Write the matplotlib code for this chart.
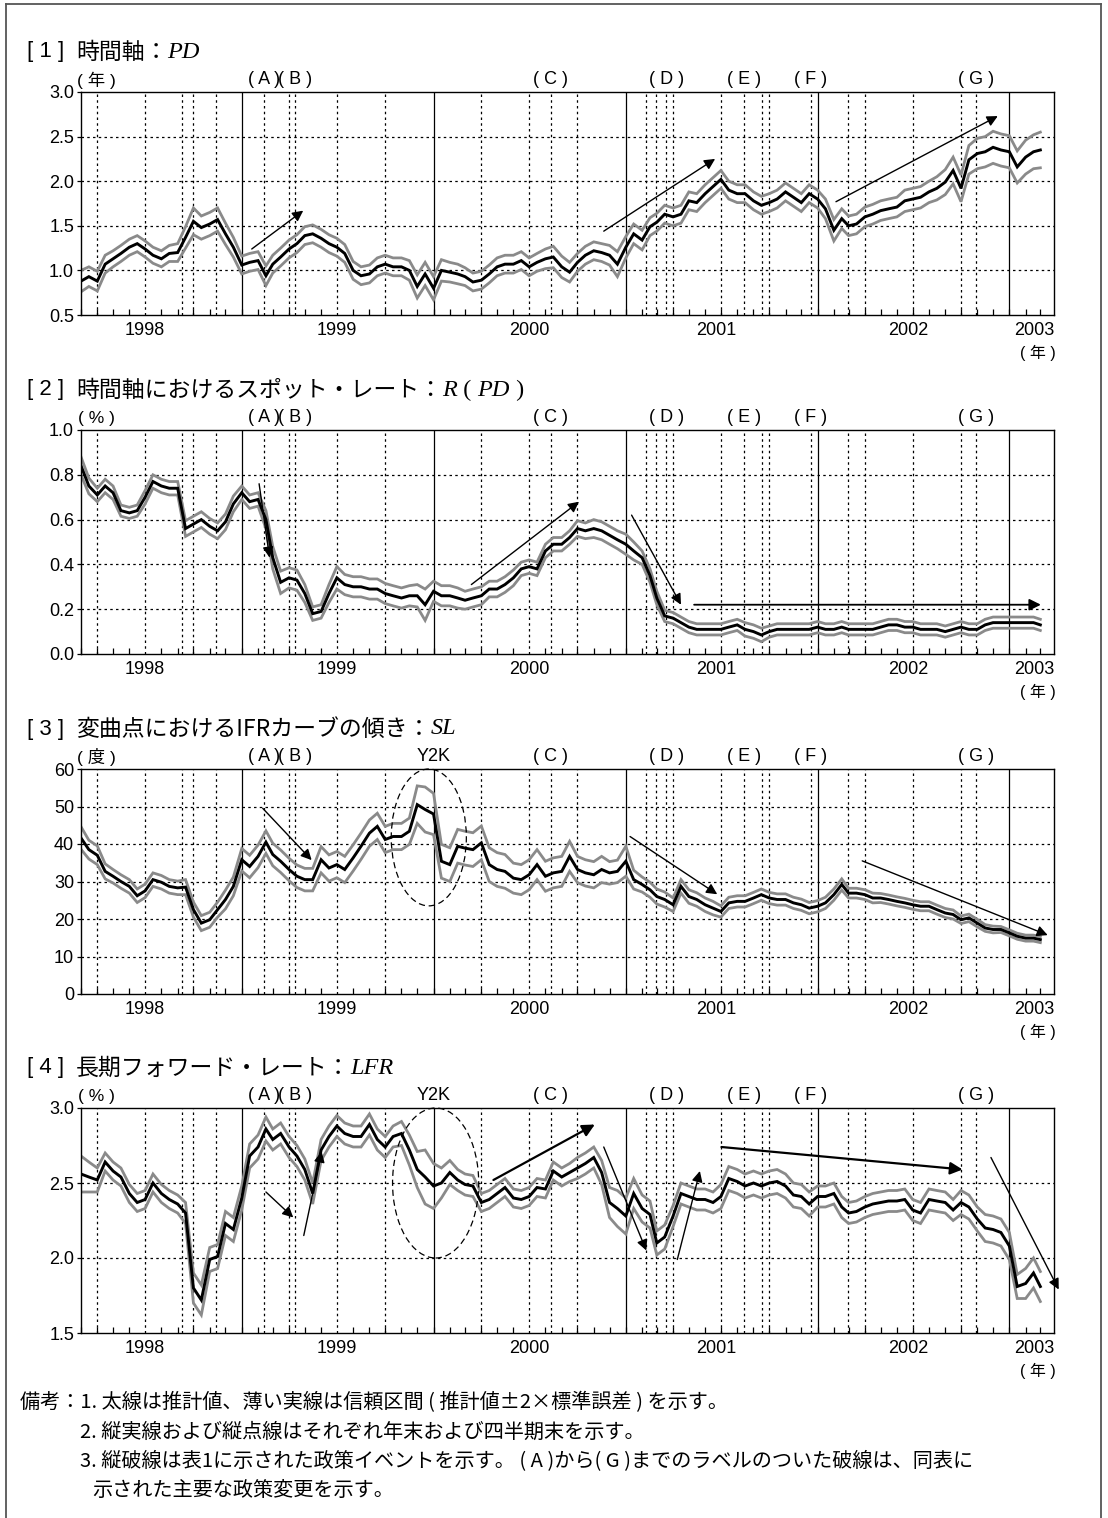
import numpy as np
import pandas as pd
import matplotlib
matplotlib.use("Agg")
import matplotlib.pyplot as plt
import matplotlib.dates as mdates
from matplotlib.patches import Ellipse
from matplotlib.lines import Line2D

W, H = 1108, 1518
JP = ["Noto Sans CJK JP", "DejaVu Sans"]
SANS = ["Liberation Sans", "Noto Sans CJK JP"]
SERIF = ["Liberation Serif"]

# ---------------------------------------------------------------- data
# semi-monthly observations (1st and 16th of each month)
month_starts = pd.date_range("1998-03-01", "2003-03-01", freq="MS")
obs_dates = sorted(list(month_starts) + [d + pd.Timedelta(days=15) for d in month_starts[:-1]])

# [1] time axis PD (years): estimate and 2*s.e. half-width
pd_est = [0.88, 0.93, 0.88, 1.07, 1.13, 1.19, 1.26, 1.30, 1.24, 1.17,
          1.13, 1.19, 1.20, 1.37, 1.55, 1.48, 1.52, 1.57, 1.41, 1.26,
          1.06, 1.09, 1.11, 0.94, 1.07, 1.15, 1.24, 1.30, 1.39, 1.41,
          1.36, 1.30, 1.26, 1.19, 1.00, 0.94, 0.96, 1.04, 1.07, 1.04,
          1.04, 1.00, 0.82, 0.96, 0.80, 1.00, 0.98, 0.96, 0.93, 0.87,
          0.89, 0.96, 1.04, 1.07, 1.07, 1.11, 1.04, 1.09, 1.13, 1.15,
          1.04, 0.98, 1.09, 1.17, 1.22, 1.20, 1.17, 1.07, 1.26, 1.41,
          1.34, 1.49, 1.54, 1.63, 1.60, 1.63, 1.78, 1.76, 1.86, 1.94,
          2.02, 1.90, 1.86, 1.86, 1.78, 1.73, 1.76, 1.80, 1.88, 1.82,
          1.76, 1.86, 1.80, 1.69, 1.45, 1.58, 1.50, 1.52, 1.60, 1.63,
          1.67, 1.69, 1.71, 1.78, 1.80, 1.82, 1.88, 1.92, 1.99, 2.12,
          1.92, 2.24, 2.31, 2.33, 2.38, 2.35, 2.33, 2.16, 2.27, 2.33,
          2.35]
pd_band = [0.12, 0.11, 0.11, 0.10, 0.09, 0.09, 0.09, 0.09, 0.09, 0.09,
           0.09, 0.09, 0.10, 0.12, 0.15, 0.13, 0.13, 0.13, 0.12, 0.11,
           0.10, 0.10, 0.10, 0.11, 0.10, 0.10, 0.10, 0.10, 0.10, 0.10,
           0.10, 0.10, 0.10, 0.10, 0.10, 0.10, 0.10, 0.10, 0.10, 0.10,
           0.10, 0.11, 0.13, 0.13, 0.13, 0.12, 0.11, 0.11, 0.10, 0.10,
           0.10, 0.10, 0.10, 0.10, 0.10, 0.10, 0.10, 0.10, 0.11, 0.12,
           0.12, 0.11, 0.10, 0.10, 0.10, 0.10, 0.11, 0.14, 0.12, 0.11,
           0.11, 0.10, 0.10, 0.10, 0.10, 0.10, 0.10, 0.10, 0.10, 0.10,
           0.10, 0.10, 0.10, 0.10, 0.10, 0.10, 0.10, 0.10, 0.10, 0.10,
           0.10, 0.10, 0.10, 0.11, 0.12, 0.11, 0.11, 0.11, 0.11, 0.11,
           0.11, 0.11, 0.11, 0.12, 0.12, 0.12, 0.12, 0.13, 0.14, 0.15,
           0.15, 0.16, 0.17, 0.17, 0.18, 0.18, 0.18, 0.18, 0.19, 0.19,
           0.20]

# [2] spot rate at PD (%)
r_est = [0.84, 0.75, 0.71, 0.75, 0.72, 0.64, 0.63, 0.64, 0.70, 0.77,
         0.75, 0.74, 0.74, 0.56, 0.58, 0.60, 0.57, 0.55, 0.59, 0.67,
         0.72, 0.68, 0.69, 0.60, 0.43, 0.32, 0.34, 0.33, 0.27, 0.18,
         0.19, 0.27, 0.34, 0.31, 0.30, 0.30, 0.29, 0.29, 0.27, 0.26,
         0.25, 0.26, 0.26, 0.22, 0.28, 0.26, 0.26, 0.25, 0.24, 0.25,
         0.26, 0.29, 0.29, 0.31, 0.34, 0.38, 0.39, 0.38, 0.46, 0.49,
         0.49, 0.52, 0.56, 0.55, 0.56, 0.55, 0.53, 0.51, 0.49, 0.46,
         0.43, 0.35, 0.25, 0.17, 0.16, 0.14, 0.12, 0.11, 0.11, 0.11,
         0.11, 0.12, 0.13, 0.11, 0.10, 0.085, 0.10, 0.11, 0.11, 0.11,
         0.11, 0.11, 0.12, 0.11, 0.11, 0.12, 0.11, 0.11, 0.11, 0.11,
         0.12, 0.13, 0.13, 0.12, 0.12, 0.11, 0.11, 0.11, 0.10, 0.11,
         0.12, 0.11, 0.11, 0.13, 0.14, 0.14, 0.14, 0.14, 0.14, 0.14,
         0.13]
r_band = [0.04, 0.035, 0.03, 0.03, 0.03, 0.025, 0.025, 0.025, 0.03, 0.03,
          0.03, 0.03, 0.03, 0.035, 0.035, 0.035, 0.035, 0.035, 0.035, 0.035,
          0.03, 0.03, 0.03, 0.04, 0.05, 0.05, 0.045, 0.045, 0.04, 0.03,
          0.03, 0.04, 0.05, 0.045, 0.045, 0.045, 0.045, 0.045, 0.045, 0.045,
          0.045, 0.045, 0.05, 0.07, 0.045, 0.045, 0.045, 0.045, 0.04, 0.04,
          0.04, 0.035, 0.035, 0.035, 0.035, 0.03, 0.03, 0.03, 0.03, 0.03,
          0.03, 0.03, 0.035, 0.035, 0.04, 0.04, 0.04, 0.04, 0.045, 0.04,
          0.03, 0.03, 0.03, 0.025, 0.025, 0.025, 0.025, 0.025, 0.025, 0.025,
          0.025, 0.025, 0.025, 0.03, 0.03, 0.03, 0.025, 0.025, 0.025, 0.025,
          0.025, 0.025, 0.025, 0.025, 0.025, 0.025, 0.025, 0.025, 0.025, 0.025,
          0.025, 0.025, 0.025, 0.025, 0.025, 0.025, 0.025, 0.025, 0.025, 0.025,
          0.025, 0.025, 0.025, 0.025, 0.025, 0.025, 0.025, 0.025, 0.025, 0.025,
          0.025]

# [3] slope of the IFR curve at the inflection point (degrees)
sl_est = [41.6, 38.5, 37.0, 32.7, 31.4, 30.0, 28.7, 26.2, 27.5, 30.5,
          29.8, 28.7, 28.3, 28.5, 22.5, 18.9, 19.8, 22.5, 25.2, 28.7,
          35.8, 34.0, 36.7, 40.5, 37.2, 35.4, 33.2, 31.4, 30.5, 30.5,
          35.8, 33.6, 34.5, 33.2, 36.3, 39.4, 42.9, 44.7, 41.2, 42.0,
          42.0, 43.4, 50.5, 49.2, 48.0, 35.4, 34.5, 39.4, 38.9, 38.5,
          40.3, 34.5, 33.2, 32.7, 30.9, 30.5, 31.8, 34.5, 31.4, 32.3,
          32.7, 36.7, 33.2, 32.3, 31.8, 33.2, 32.3, 32.7, 35.4, 30.5,
          29.2, 27.8, 26.0, 25.2, 23.8, 28.7, 26.0, 25.2, 23.8, 22.9,
          22.0, 24.3, 24.7, 24.7, 25.6, 26.5, 25.6, 25.2, 25.2, 24.3,
          23.8, 22.9, 23.4, 24.3, 26.5, 29.2, 26.9, 26.9, 26.5, 25.6,
          25.6, 25.2, 24.7, 24.3, 23.8, 23.4, 23.4, 22.5, 21.6, 21.2,
          19.8, 20.3, 18.9, 17.6, 17.2, 17.2, 16.3, 15.4, 14.9, 14.9,
          14.5]
sl_band = [3.0, 2.5, 2.5, 2.0, 1.8, 1.8, 1.8, 1.8, 1.8, 1.8,
           1.8, 1.8, 1.8, 2.0, 2.0, 2.0, 2.0, 2.0, 2.5, 2.5,
           3.0, 3.0, 3.0, 3.0, 3.0, 3.0, 3.0, 3.0, 3.0, 3.0,
           3.5, 3.5, 3.5, 3.5, 3.5, 3.5, 3.5, 3.5, 3.5, 3.5,
           3.5, 3.5, 5.0, 6.0, 5.5, 4.5, 4.5, 4.5, 4.5, 4.5,
           4.5, 4.5, 4.5, 4.5, 4.0, 4.0, 4.0, 4.0, 4.0, 4.0,
           4.0, 4.0, 3.5, 3.5, 3.5, 3.5, 3.0, 3.0, 4.0, 2.5,
           2.0, 2.0, 2.0, 2.0, 1.8, 1.8, 1.8, 1.8, 1.8, 1.8,
           1.5, 1.5, 1.5, 1.5, 1.5, 1.5, 1.5, 1.5, 1.5, 1.5,
           1.5, 1.5, 1.5, 1.5, 1.5, 1.5, 1.3, 1.3, 1.3, 1.3,
           1.2, 1.2, 1.2, 1.2, 1.2, 1.2, 1.2, 1.2, 1.2, 1.2,
           1.0, 1.0, 1.0, 0.9, 0.9, 0.8, 0.8, 0.8, 0.8, 0.8,
           0.8]

# [4] long-term forward rate LFR (%)
lfr_est = [2.56, 2.54, 2.52, 2.64, 2.58, 2.54, 2.43, 2.37, 2.39, 2.50,
           2.43, 2.39, 2.36, 2.30, 1.80, 1.72, 1.99, 2.01, 2.23, 2.19,
           2.40, 2.68, 2.74, 2.86, 2.79, 2.83, 2.74, 2.68, 2.59, 2.43,
           2.72, 2.81, 2.88, 2.83, 2.81, 2.81, 2.89, 2.79, 2.74, 2.81,
           2.83, 2.72, 2.59, 2.54, 2.48, 2.50, 2.57, 2.52, 2.49, 2.48,
           2.37, 2.39, 2.43, 2.47, 2.40, 2.39, 2.41, 2.47, 2.46, 2.58,
           2.54, 2.57, 2.60, 2.63, 2.67, 2.57, 2.37, 2.33, 2.28, 2.43,
           2.33, 2.29, 2.10, 2.14, 2.28, 2.43, 2.41, 2.39, 2.39, 2.37,
           2.41, 2.53, 2.51, 2.48, 2.50, 2.48, 2.50, 2.51, 2.48, 2.42,
           2.41, 2.36, 2.41, 2.41, 2.43, 2.34, 2.30, 2.31, 2.34, 2.36,
           2.37, 2.38, 2.38, 2.39, 2.32, 2.30, 2.39, 2.38, 2.37, 2.32,
           2.37, 2.34, 2.26, 2.20, 2.19, 2.17, 2.08, 1.81, 1.83, 1.90,
           1.81]
lfr_band = [0.12, 0.10, 0.08, 0.06, 0.06, 0.06, 0.06, 0.06, 0.06, 0.06,
            0.06, 0.06, 0.06, 0.07, 0.10, 0.10, 0.08, 0.08, 0.08, 0.08,
            0.08, 0.08, 0.08, 0.08, 0.07, 0.07, 0.07, 0.07, 0.07, 0.07,
            0.07, 0.07, 0.07, 0.07, 0.07, 0.07, 0.07, 0.07, 0.07, 0.07,
            0.08, 0.10, 0.12, 0.18, 0.15, 0.10, 0.08, 0.07, 0.07, 0.07,
            0.06, 0.06, 0.06, 0.06, 0.06, 0.06, 0.06, 0.06, 0.06, 0.06,
            0.06, 0.06, 0.07, 0.07, 0.07, 0.08, 0.10, 0.12, 0.12, 0.10,
            0.09, 0.09, 0.08, 0.08, 0.07, 0.07, 0.07, 0.07, 0.07, 0.07,
            0.08, 0.08, 0.08, 0.08, 0.08, 0.08, 0.08, 0.08, 0.08, 0.08,
            0.08, 0.08, 0.07, 0.07, 0.07, 0.07, 0.07, 0.07, 0.07, 0.07,
            0.07, 0.07, 0.07, 0.07, 0.07, 0.07, 0.07, 0.07, 0.07, 0.07,
            0.08, 0.08, 0.08, 0.09, 0.09, 0.09, 0.09, 0.08, 0.10, 0.10,
            0.10]

# calendar references
year_ends = ["1999-01-01", "2000-01-01", "2001-01-01", "2002-01-01", "2003-01-01"]
quarter_ends = ["1998-04-01", "1998-07-01", "1998-10-01",
                "1999-04-01", "1999-07-01", "1999-10-01",
                "2000-04-01", "2000-07-01", "2000-10-01",
                "2001-04-01", "2001-07-01", "2001-10-01",
                "2002-04-01", "2002-07-01", "2002-10-01"]
policy_events = ["1998-09-09", "1998-11-13", "1999-02-12", "1999-04-13",
                 "2000-08-11", "2001-02-09", "2001-02-28", "2001-03-19",
                 "2001-08-14", "2001-09-18", "2001-12-19", "2002-02-28",
                 "2002-10-30"]
event_labels = ["( A )", "( B )", "( C )", "( D )", "( E )", "( F )", "( G )"]
event_label_dates = ["1999-02-12", "1999-04-13", "2000-08-11", "2001-03-19",
                     "2001-08-14", "2001-12-19", "2002-10-30"]
year_labels = ["1998", "1999", "2000", "2001", "2002", "2003"]
year_label_dates = ["1998-07-01", "1999-07-01", "2000-07-01",
                    "2001-06-22", "2002-06-22", "2003-02-18"]

# ---------------------------------------------------------------- layout
fig = plt.figure(figsize=(W / 100, H / 100), dpi=100)
fig.patch.set_facecolor("white")


def fx(px):
    return px / W


def fy(py):
    return 1 - py / H


AX_L, AX_R = 81, 1054
XMIN, XMAX = pd.Timestamp("1998-03-01"), pd.Timestamp("2003-03-27")
DOT = (0, (2.0, 2.6))

panels = [
    dict(top=92, bottom=315, num="[ 1 ]",
         title=[("時間軸：", "jp"), ("PD", "it")],
         unit="( 年 )", ylim=(0.5, 3.0), yticks=[0.5, 1.0, 1.5, 2.0, 2.5, 3.0],
         fmt="{:.1f}", est=pd_est, band=pd_band, y2k=None,
         arrows=[(("1999-01-20", 1.24), ("1999-04-28", 1.67), 1.0),
                 (("2000-11-20", 1.44), ("2001-06-20", 2.25), 1.0),
                 (("2002-02-05", 1.77), ("2002-12-10", 2.73), 1.0)]),
    dict(top=430, bottom=654, num="[ 2 ]",
         title=[("時間軸におけるスポット・レート：", "jp"), ("R", "it"),
                (" ( ", "rm"), ("PD", "it"), (" )", "rm")],
         unit="( % )", ylim=(0.0, 1.0), yticks=[0.0, 0.2, 0.4, 0.6, 0.8, 1.0],
         fmt="{:.1f}", est=r_est, band=r_band, y2k=None,
         arrows=[(("1999-02-03", 0.76), ("1999-02-23", 0.43), 1.0),
                 (("2000-03-13", 0.31), ("2000-10-04", 0.68), 1.0),
                 (("2001-01-12", 0.62), ("2001-04-16", 0.22), 1.0),
                 (("2001-05-11", 0.22), ("2003-03-02", 0.22), 1.3)]),
    dict(top=769, bottom=994, num="[ 3 ]",
         title=[("変曲点におけるIFRカーブの傾き：", "jp"), ("SL", "it")],
         unit="( 度 )", ylim=(0, 60), yticks=[0, 10, 20, 30, 40, 50, 60],
         fmt="{:.0f}", est=sl_est, band=sl_band,
         y2k=("1999-12-23", 41.75, 143, 36.5),
         arrows=[(("1999-02-10", 49.5), ("1999-05-14", 35.7), 1.0),
                 (("2001-01-09", 42.0), ("2001-06-24", 26.6), 1.0),
                 (("2002-03-27", 35.5), ("2003-03-15", 15.7), 1.0)]),
    dict(top=1108, bottom=1333, num="[ 4 ]",
         title=[("長期フォワード・レート：", "jp"), ("LFR", "it")],
         unit="( % )", ylim=(1.5, 3.0), yticks=[1.5, 2.0, 2.5, 3.0],
         fmt="{:.1f}", est=lfr_est, band=lfr_band,
         y2k=("2000-01-05", 2.5, 164, 1.0),
         arrows=[(("1999-02-16", 2.44), ("1999-04-09", 2.27), 1.0),
                 (("1999-04-29", 2.15), ("1999-06-02", 2.71), 1.0),
                 (("2000-04-24", 2.52), ("2000-11-03", 2.89), 1.6),
                 (("2000-11-20", 2.74), ("2001-02-09", 2.05), 1.0),
                 (("2001-04-09", 1.99), ("2001-05-22", 2.58), 1.0),
                 (("2001-07-02", 2.74), ("2002-10-04", 2.59), 1.6),
                 (("2002-11-27", 2.67), ("2003-04-05", 1.79), 1.0)]),
]

STYLE = {"num": dict(family=SANS, fontsize=16),
         "jp": dict(family=JP, fontsize=16.5),
         "it": dict(family=SERIF, fontsize=17.5, style="italic"),
         "rm": dict(family=SERIF, fontsize=17.5)}

renderer = fig.canvas.get_renderer()


def draw_runs(x, y, runs):
    for s, key in runs:
        t = fig.text(fx(x), fy(y), s, va="center", ha="left", **STYLE[key])
        x += t.get_window_extent(renderer=renderer).width


d = lambda s: mdates.date2num(pd.Timestamp(s))


def xpix(s):
    return AX_L + (d(s) - d(XMIN)) / (d(XMAX) - d(XMIN)) * (AX_R - AX_L)


for p in panels:
    ax = fig.add_axes([fx(AX_L), fy(p["bottom"]), fx(AX_R) - fx(AX_L),
                       (p["bottom"] - p["top"]) / H])
    ax.set_xlim(XMIN, XMAX)
    ax.set_ylim(*p["ylim"])

    # reference lines: quarters, policy events, year ends, horizontal grid
    for q in quarter_ends:
        ax.axvline(pd.Timestamp(q), color="k", lw=0.9, ls=DOT, zorder=1)
    for e in policy_events:
        ax.axvline(pd.Timestamp(e), color="k", lw=0.9, ls=DOT, zorder=1)
    for ye in year_ends:
        ax.axvline(pd.Timestamp(ye), color="k", lw=0.9, zorder=1)
    for yv in p["yticks"][1:-1]:
        ax.axhline(yv, color="k", lw=0.9, ls=DOT, zorder=1)

    est = np.array(p["est"])
    band = np.array(p["band"])
    ax.plot(obs_dates, est + band, color="#8a8a8a", lw=2.0, zorder=2,
            solid_joinstyle="miter")
    ax.plot(obs_dates, est - band, color="#8a8a8a", lw=2.0, zorder=2,
            solid_joinstyle="miter")
    ax.plot(obs_dates, est, color="black", lw=2.1, zorder=3,
            solid_joinstyle="miter")

    if p["y2k"] is not None:
        cx, cy, wd, ht = p["y2k"]
        ax.add_patch(Ellipse((d(cx), cy), wd, ht, fill=False, ls=(0, (5, 3)),
                             lw=0.9, ec="k", zorder=4, clip_on=False))

    for (x0, y0), (x1, y1), lw in p["arrows"]:
        ax.annotate("", xy=(pd.Timestamp(x1), y1), xytext=(pd.Timestamp(x0), y0),
                    arrowprops=dict(arrowstyle="-|>", color="k", lw=lw,
                                    mutation_scale=16 + 4 * (lw - 1),
                                    shrinkA=0, shrinkB=0),
                    zorder=5, annotation_clip=False)

    # axes furniture
    for sp in ax.spines.values():
        sp.set_linewidth(1.0)
        sp.set_color("black")
    ax.set_yticks(p["yticks"])
    ax.set_yticklabels([p["fmt"].format(v) for v in p["yticks"]],
                       family=SANS, fontsize=13)
    ax.tick_params(axis="y", length=3, width=0.9, pad=2, direction="out")
    ax.set_xticks([pd.Timestamp(s) for s in year_label_dates])
    ax.set_xticklabels(year_labels, family=SANS, fontsize=13)
    ax.xaxis.set_minor_locator(mdates.MonthLocator())
    ax.tick_params(axis="x", which="major", length=0, pad=5)
    ax.tick_params(axis="x", which="minor", length=4, width=0.9, direction="in")

    # titles and annotations around the axes
    top, bot = p["top"], p["bottom"]
    fig.text(fx(27), fy(top - 40), p["num"], va="center", ha="left", **STYLE["num"])
    draw_runs(76, top - 40, p["title"])
    fig.text(fx(96), fy(top - 12), p["unit"], ha="center", va="center",
             family=SANS, fontsize=12.5)
    for lab, ld in zip(event_labels, event_label_dates):
        fig.text(fx(xpix(ld)), fy(top - 12), lab, ha="center", va="center",
                 family=SANS, fontsize=13)
    if p["y2k"] is not None:
        fig.text(fx(xpix("2000-01-01")), fy(top - 12), "Y2K", ha="center",
                 va="center", family=SANS, fontsize=13)
    fig.text(fx(1038), fy(bot + 38), "( 年 )", ha="center", va="center",
             family=SANS, fontsize=11.5)

# notes
notes = [(20, 1403, "備考：1. 太線は推計値、薄い実線は信頼区間 ( 推計値±2×標準誤差 ) を示す。"),
         (80, 1432, "2. 縦実線および縦点線はそれぞれ年末および四半期末を示す。"),
         (80, 1461, "3. 縦破線は表1に示された政策イベントを示す。 ( A )から( G )までのラベルのついた破線は、同表に"),
         (92, 1490, "示された主要な政策変更を示す。")]
for x, y, s in notes:
    fig.text(fx(x), fy(y), s, ha="left", va="center", family=JP, fontsize=14.5)

# outer frame (open at the bottom)
for xs, ys in [((6, 6), (4, H)), ((6, 1101), (4, 4)), ((1101, 1101), (4, H))]:
    fig.add_artist(Line2D([fx(v) for v in xs], [fy(v) for v in ys],
                          color="#555555", lw=1.3))

fig.savefig("out.png", dpi=100)
